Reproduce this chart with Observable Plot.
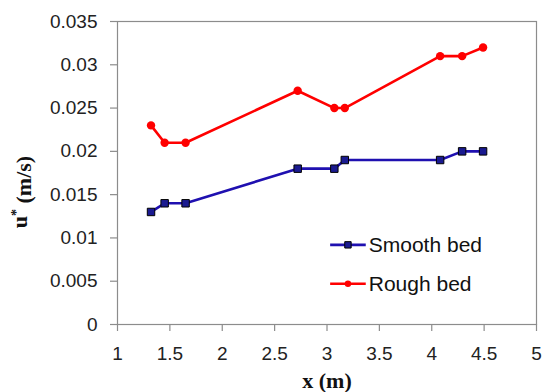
<!DOCTYPE html>
<html>
<head>
<meta charset="utf-8">
<script src="https://cdn.jsdelivr.net/npm/d3@7"></script>
<script src="https://cdn.jsdelivr.net/npm/@observablehq/plot@0.6"></script>
<style>
  html, body { margin: 0; padding: 0; background: #fff; }
  #chart { position: relative; width: 542px; height: 392px; }
</style>
</head>
<body>
<div id="chart"></div>
<script>
// ---- data ----
const xPositions = [1.32, 1.45, 1.65, 2.72, 3.07, 3.17, 4.08, 4.29, 4.49];
const smoothBed = [0.013, 0.014, 0.014, 0.018, 0.018, 0.019, 0.019, 0.020, 0.020];
const roughBed  = [0.023, 0.021, 0.021, 0.027, 0.025, 0.025, 0.031, 0.031, 0.032];
const seriesNames = ["Smooth bed", "Rough bed"];
const xTicks = [1, 1.5, 2, 2.5, 3, 3.5, 4, 4.5, 5];
const xTickLabels = ["1", "1.5", "2", "2.5", "3", "3.5", "4", "4.5", "5"];
const yTicks = [0, 0.005, 0.01, 0.015, 0.02, 0.025, 0.03, 0.035];
const yTickLabels = ["0", "0.005", "0.01", "0.015", "0.02", "0.025", "0.03", "0.035"];
// legend anchor (data space)
const legendX = [3.03, 3.37];
const legendY = [0.0092, 0.0047];

const smooth = xPositions.map((x, i) => ({x, y: smoothBed[i]}));
const rough = xPositions.map((x, i) => ({x, y: roughBed[i]}));

const blue = "#1f10b0";
const red = "#ff0000";
const grey = "#8c8c8c";
const tickFont = "'Liberation Sans', Arial, sans-serif";

const legend = seriesNames.map((name, i) => ({
  name, x1: legendX[0], x2: legendX[1], xm: (legendX[0] + legendX[1]) / 2, y: legendY[i]
}));

const chart = Plot.plot({
  width: 542,
  height: 392,
  marginLeft: 117,
  marginRight: 6,
  marginTop: 21,
  marginBottom: 68,
  style: { fontFamily: tickFont, background: "#fff", overflow: "visible" },
  x: { domain: [1, 5] },
  y: { domain: [0, 0.035] },
  marks: [
    Plot.frame({ stroke: grey, strokeWidth: 1.2 }),
    Plot.axisX({
      ticks: xTicks, tickFormat: (d, i) => xTickLabels[xTicks.indexOf(d)],
      tickSize: 7, tickPadding: 15, fontSize: 19, stroke: grey, strokeWidth: 1.2,
      color: "#222", label: null
    }),
    Plot.axisY({
      ticks: yTicks, tickFormat: d => yTickLabels[yTicks.indexOf(d)],
      tickSize: 7, tickPadding: 13, fontSize: 19, stroke: grey, strokeWidth: 1.2,
      color: "#222", label: null
    }),
    Plot.line(rough, { x: "x", y: "y", stroke: red, strokeWidth: 2.6 }),
    Plot.dot(rough, { x: "x", y: "y", fill: red, r: 4.2 }),
    Plot.line(smooth, { x: "x", y: "y", stroke: blue, strokeWidth: 2.6 }),
    Plot.dot(smooth, { x: "x", y: "y", symbol: "square", fill: "#1a1a90", stroke: "#000", strokeWidth: 1, r: 4.2 }),
    // legend
    Plot.link(legend, { x1: "x1", x2: "x2", y1: "y", y2: "y", stroke: (d, i) => i === 0 ? blue : red, strokeWidth: 2.6 }),
    Plot.dot(legend.slice(0, 1), { x: "xm", y: "y", symbol: "square", fill: "#1a1a90", stroke: "#000", strokeWidth: 1, r: 3.6 }),
    Plot.dot(legend.slice(1), { x: "xm", y: "y", fill: red, r: 3.2 }),
    Plot.text(legend, { x: "x2", y: "y", text: "name", textAnchor: "start", dx: 3, fontSize: 21, fill: "#111", fontFamily: tickFont })
  ]
});

// fix link colors (channel function returns color strings)
document.getElementById("chart").appendChild(chart);

const svg = d3.select(chart);
// x axis title
svg.append("text")
  .attr("x", 327).attr("y", 388)
  .attr("text-anchor", "middle")
  .attr("font-family", "'Liberation Serif', 'Times New Roman', serif")
  .attr("font-weight", "bold")
  .attr("font-size", 22)
  .attr("fill", "#111")
  .text("x (m)");
// y axis title with superscript
const yt = svg.append("text")
  .attr("transform", "translate(27,192) rotate(-90)")
  .attr("text-anchor", "middle")
  .attr("font-family", "'Liberation Serif', 'Times New Roman', serif")
  .attr("font-weight", "bold")
  .attr("font-size", 22)
  .attr("fill", "#111");
yt.append("tspan").text("u");
yt.append("tspan").attr("dy", "-0.45em").attr("font-size", 14).text("*");
yt.append("tspan").attr("dy", "0.45em").text(" (m/s)");
</script>
</body>
</html>
